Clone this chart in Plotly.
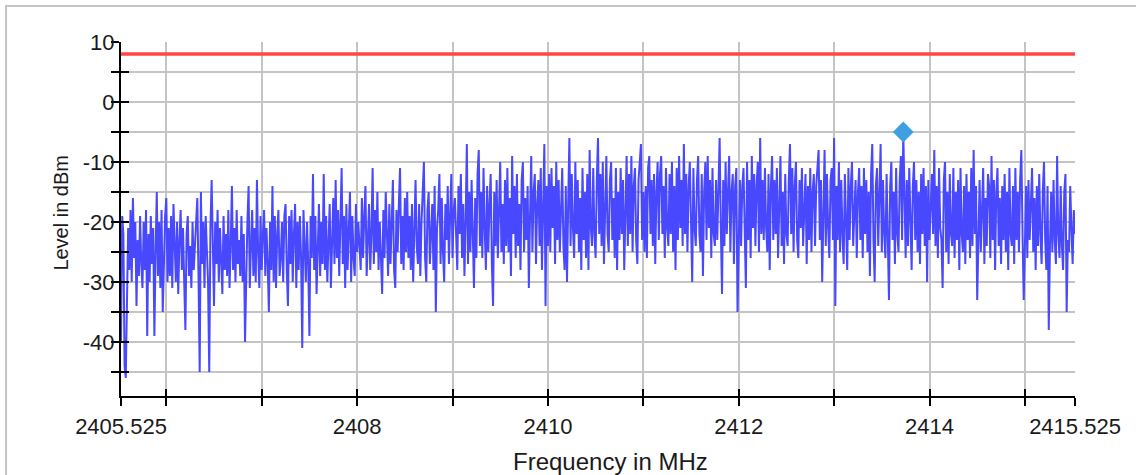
import plotly.graph_objects as go

# ---------------- data ----------------
f_start_mhz = 2405.525
f_step_mhz = 0.0125
level_dbm = [
    -40, -19, -22, -44, -46, -32, -21, -28, -18, -30, -16, -26, -20, -34, -23, -29, -19, -27, -31, -20,
    -28, -18, -39, -22, -30, -19, -27, -21, -39, -25, -15, -29, -20, -31, -18, -35, -26, -19, -16, -30,
    -21, -29, -19, -31, -17, -26, -30, -20, -32, -23, -18, -28, -21, -30, -38, -22, -19, -29, -24, -31,
    -20, -28, -23, -18, -16, -29, -45, -15, -27, -20, -31, -19, -26, -30, -45, -21, -13, -27, -34, -20,
    -27, -18, -30, -21, -26, -32, -19, -28, -22, -29, -18, -31, -24, -14, -28, -21, -30, -18, -27, -23,
    -29, -19, -30, -22, -40, -26, -20, -14, -31, -24, -18, -29, -21, -30, -13, -25, -31, -19, -28, -22,
    -18, -29, -21, -27, -35, -20, -28, -14, -30, -19, -31, -22, -18, -29, -26, -20, -30, -19, -17, -28,
    -34, -19, -27, -18, -30, -22, -17, -31, -20, -28, -19, -26, -41, -18, -25, -30, -20, -27, -39, -19,
    -26, -12, -28, -19, -32, -22, -17, -29, -20, -27, -12, -28, -19, -30, -22, -17, -31, -25, -16, -27,
    -13, -26, -18, -29, -21, -11, -27, -19, -31, -17, -28, -20, -15, -30, -19, -26, -29, -17, -25, -20,
    -24, -28, -16, -26, -19, -14, -29, -21, -17, -28, -22, -11, -27, -18, -25, -15, -28, -20, -26, -32,
    -18, -26, -15, -24, -29, -17, -27, -20, -13, -28, -31, -18, -25, -17, -11, -27, -19, -28, -16, -25,
    -15, -26, -19, -28, -17, -30, -21, -13, -24, -27, -17, -29, -20, -16, -10, -26, -30, -18, -15, -27,
    -20, -17, -28, -14, -35, -21, -18, -12, -27, -16, -25, -30, -17, -23, -14, -27, -19, -12, -26, -18,
    -16, -24, -28, -14, -22, -12, -26, -17, -29, -20, -7, -27, -15, -25, -13, -22, -31, -16, -26, -12,
    -8, -24, -15, -26, -11, -21, -28, -14, -25, -17, -12, -27, -34, -15, -24, -13, -26, -18, -10, -25,
    -17, -27, -13, -24, -11, -25, -16, -29, -9, -22, -14, -26, -12, -24, -17, -28, -13, -10, -25, -16,
    -23, -14, -31, -19, -9, -25, -15, -12, -27, -17, -13, -24, -11, -28, -16, -7, -34, -14, -24, -12,
    -25, -11, -21, -14, -27, -10, -23, -13, -25, -16, -11, -24, -28, -14, -30, -17, -6, -24, -12, -21,
    -26, -10, -22, -13, -25, -16, -28, -11, -23, -15, -26, -12, -28, -8, -21, -24, -11, -22, -26, -13,
    -6, -22, -12, -24, -10, -27, -14, -9, -22, -25, -13, -10, -23, -16, -26, -11, -28, -15, -23, -11,
    -22, -13, -28, -16, -9, -24, -12, -22, -9, -25, -14, -11, -23, -27, -13, -10, -7, -23, -15, -25,
    -14, -26, -11, -9, -22, -13, -24, -12, -27, -15, -10, -23, -12, -9, -22, -14, -26, -11, -21, -24,
    -12, -22, -10, -25, -14, -28, -11, -23, -9, -21, -13, -24, -7, -22, -12, -25, -14, -10, -23, -30,
    -11, -21, -24, -13, -9, -22, -25, -12, -29, -15, -10, -23, -9, -21, -13, -26, -11, -22, -24, -13,
    -23, -12, -6, -21, -32, -13, -24, -10, -22, -15, -9, -25, -15, -12, -27, -14, -11, -35, -22, -13,
    -24, -14, -11, -22, -31, -10, -23, -13, -26, -9, -21, -12, -24, -14, -10, -25, -6, -22, -13, -23,
    -11, -21, -25, -12, -28, -14, -9, -23, -13, -22, -11, -26, -14, -9, -24, -15, -27, -12, -22, -24,
    -13, -7, -22, -11, -25, -14, -10, -23, -26, -13, -21, -11, -24, -16, -12, -27, -14, -23, -11, -25,
    -15, -12, -24, -14, -11, -8, -23, -13, -30, -16, -8, -24, -12, -21, -26, -13, -11, -23, -6, -34,
    -14, -23, -10, -25, -13, -22, -27, -12, -21, -28, -11, -23, -14, -10, -24, -16, -13, -26, -15, -11,
    -23, -14, -26, -11, -22, -13, -25, -15, -29, -12, -7, -23, -30, -14, -11, -24, -16, -7, -25, -13,
    -22, -26, -12, -24, -33, -14, -10, -23, -15, -27, -11, -22, -25, -13, -9, -23, -5, -15, -26, -13,
    -24, -11, -22, -28, -14, -10, -23, -13, -25, -15, -27, -12, -22, -11, -24, -14, -30, -13, -23, -15,
    -12, -22, -8, -24, -14, -26, -11, -21, -23, -31, -13, -10, -25, -15, -27, -12, -22, -24, -11, -26,
    -15, -23, -13, -28, -11, -22, -25, -14, -27, -12, -23, -15, -26, -11, -24, -8, -22, -14, -33, -23,
    -13, -25, -15, -11, -27, -16, -24, -12, -14, -26, -9, -23, -13, -28, -15, -11, -24, -16, -27, -14,
    -23, -12, -25, -15, -28, -11, -22, -24, -14, -27, -11, -23, -15, -25, -13, -8, -22, -33, -24, -14,
    -26, -13, -23, -15, -11, -25, -16, -28, -14, -24, -12, -22, -27, -15, -10, -23, -28, -14, -38, -24,
    -15, -25, -13, -23, -27, -9, -22, -26, -14, -24, -28, -15, -12, -35, -23, -25, -14, -21, -27, -18,
    -22,
]
freq_mhz = [round(f_start_mhz + i * f_step_mhz, 4) for i in range(len(level_dbm))]

limit_freq_mhz = [2405.525, 2415.525]
limit_level_dbm = [8, 8]

marker_freq_mhz = [2413.725]
marker_level_dbm = [-5]

x_tick_vals = [2405.525, 2406, 2407, 2408, 2409, 2410, 2411, 2412, 2413, 2414, 2415, 2415.525]
x_tick_text = ["2405.525", "", "", "2408", "", "2410", "", "2412", "", "2414", "", "2415.525"]
y_tick_vals = [-45, -40, -35, -30, -25, -20, -15, -10, -5, 0, 5, 10]
y_tick_text = ["", "-40", "", "-30", "", "-20", "", "-10", "", "0", "", "10"]

x_range = [2405.525, 2415.525]
y_range = [-49, 10]

# ---------------- styles ----------------
FONT = "Liberation Sans, Arial, sans-serif"
GRID = "#c4c4c4"
TRACE = "#4848ff"
LIMIT = "#ff4646"
MARK = "#3f9fdf"

fig = go.Figure()
fig.add_trace(go.Scatter(x=freq_mhz, y=level_dbm, mode="lines",
                         line=dict(color=TRACE, width=2), hoverinfo="skip", showlegend=False))
fig.add_trace(go.Scatter(x=limit_freq_mhz, y=limit_level_dbm, mode="lines",
                         line=dict(color=LIMIT, width=3.5), showlegend=False))
fig.add_trace(go.Scatter(x=marker_freq_mhz, y=marker_level_dbm, mode="markers",
                         marker=dict(symbol="diamond", size=16, color=MARK), showlegend=False))
# helper trace to activate overlay axes (ticks that cross the axis line)
fig.add_trace(go.Scatter(x=[], y=[], xaxis="x2", yaxis="y2", showlegend=False))

common_tick = dict(tickcolor="black", tickwidth=2, zeroline=False)
fig.update_layout(
    width=1136, height=475, autosize=False,
    margin=dict(l=121, r=61, t=42, b=79, pad=0),
    paper_bgcolor="white", plot_bgcolor="white",
    font=dict(family=FONT, size=22, color="#1a1a1a"),
    xaxis=dict(range=x_range, tickmode="array", tickvals=x_tick_vals, ticktext=x_tick_text,
               showgrid=True, gridcolor=GRID, gridwidth=2,
               showline=True, linecolor="black", linewidth=2,
               ticks="outside", ticklen=8, ticklabelstandoff=2, **common_tick),
    yaxis=dict(range=y_range, tickmode="array", tickvals=y_tick_vals, ticktext=y_tick_text,
               showgrid=True, gridcolor=GRID, gridwidth=2,
               showline=True, linecolor="black", linewidth=2,
               ticks="outside", ticklen=8, ticklabelstandoff=-8, **common_tick),
    xaxis2=dict(range=x_range, overlaying="x", anchor="y", side="bottom",
                tickmode="array", tickvals=x_tick_vals, showticklabels=False,
                showgrid=False, showline=False, ticks="inside", ticklen=7, **common_tick),
    yaxis2=dict(range=y_range, overlaying="y", anchor="x", side="left",
                tickmode="array", tickvals=y_tick_vals, showticklabels=False,
                showgrid=False, showline=False, ticks="inside", ticklen=8, **common_tick),
    annotations=[
        dict(text="Frequency in MHz", xref="paper", yref="paper", x=0.5126, y=-0.1864,
             xanchor="center", yanchor="middle", showarrow=False,
             font=dict(family=FONT, size=24, color="#1a1a1a")),
        dict(text="Level in dBm", xref="paper", yref="paper", x=-0.0629, y=0.518,
             xanchor="center", yanchor="middle", showarrow=False, textangle=-90,
             font=dict(family=FONT, size=20, color="#1a1a1a")),
    ],
    shapes=[
        dict(type="rect", xref="paper", yref="paper", x0=-0.1205, y0=-0.4, x1=1.2, y1=1.1017,
             line=dict(color="#c4c4c4", width=2), fillcolor="rgba(0,0,0,0)", layer="below"),
    ],
)

fig.write_html("out.html", config={"displayModeBar": False},
               post_script="document.body.style.margin='0px';")
